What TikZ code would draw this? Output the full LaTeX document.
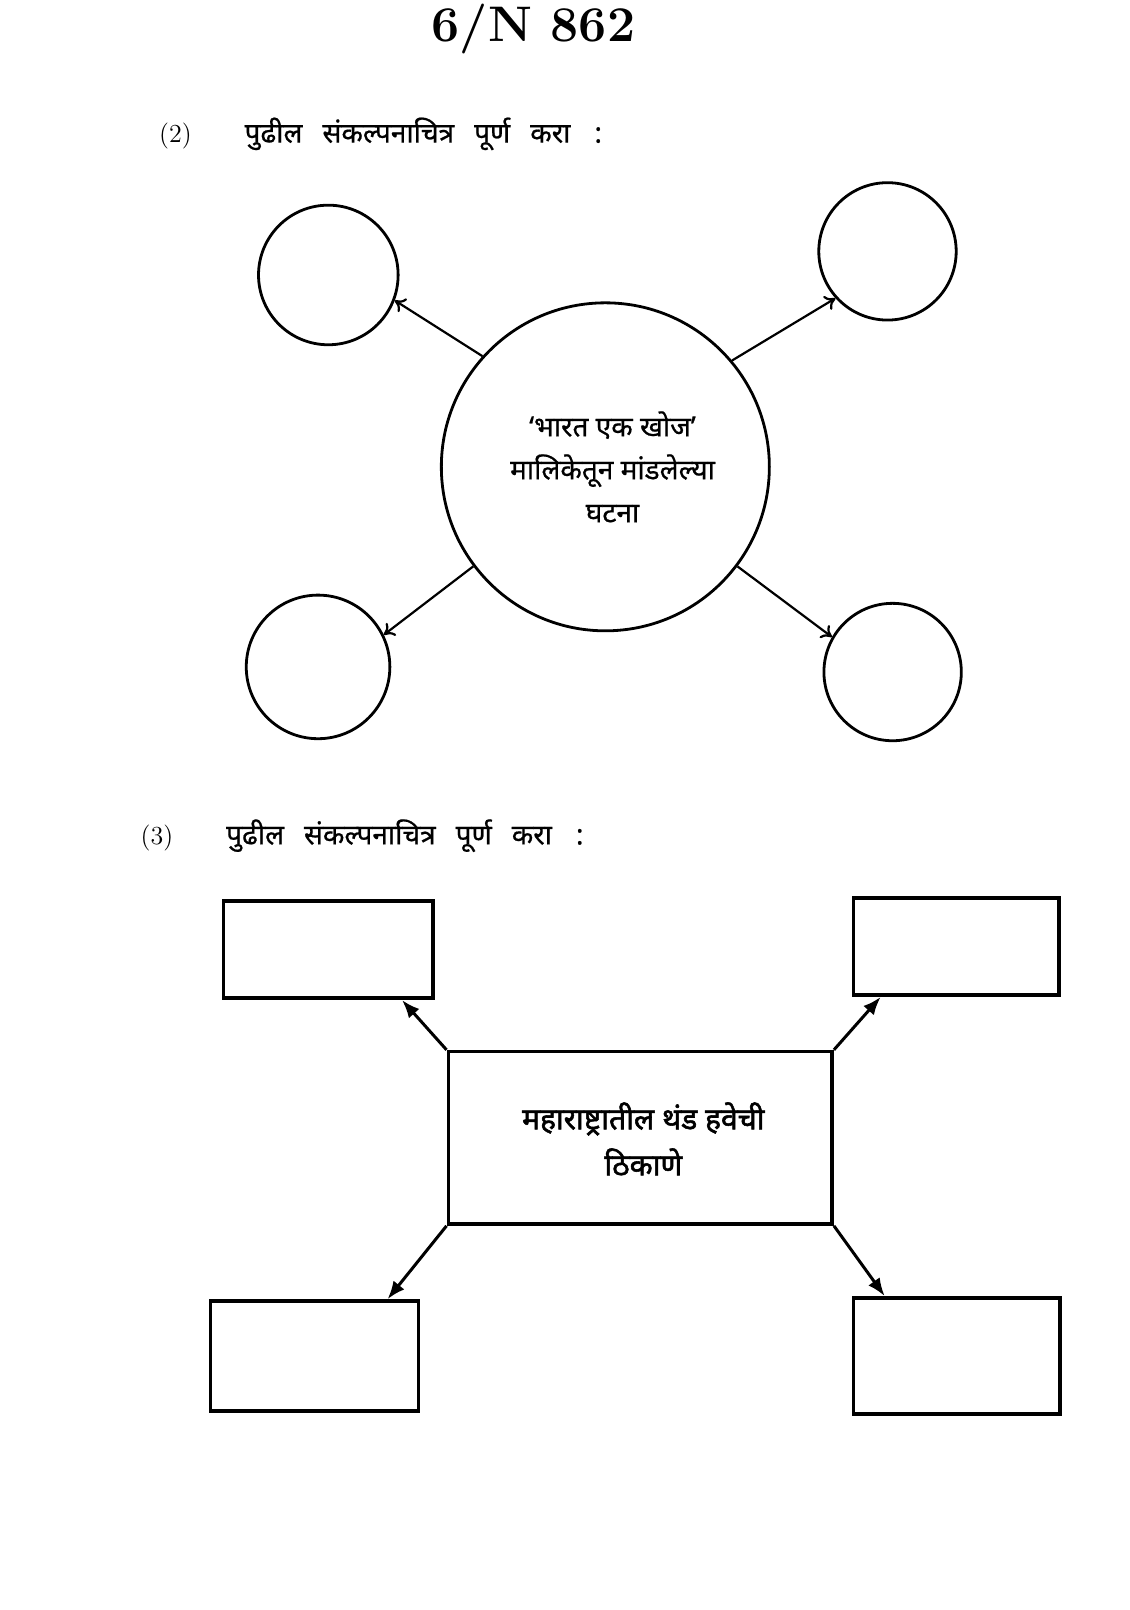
\documentclass[tikz,border=0pt]{standalone}
\usepackage{fontspec}
\usetikzlibrary{positioning}
\usetikzlibrary{arrows.meta}
\newfontfamily\marathi[Script=Devanagari, FakeBold=0.6]{Noto Sans}
\newfontfamily\marathibold[Script=Devanagari, FakeBold=1.8]{Noto Sans}
\newcommand{\wgap}{\hspace{10pt}}

\begin{document}
\begin{tikzpicture}[x=0.513pt, y=-0.513pt,
  blank/.style={draw, circle, line width=1.4pt, inner sep=0pt},
  box/.style={draw, rectangle, line width=1.8pt, inner sep=0pt},
  open arrow/.style={line width=1.1pt, -{To[length=5pt, width=8pt]}},
  solid arrow/.style={line width=1.5pt, -{Latex[length=9pt, width=7pt]}},
  qno/.style={anchor=base, font=\fontsize{13}{15}\selectfont},
  qtext/.style={anchor=base west, inner sep=0pt, font=\marathi\fontsize{14}{16}\selectfont}]

\useasboundingbox (0,0) rectangle (1100.4,1569.2);

\node[anchor=base] (code) at (520,40) {\fontsize{25}{30}\selectfont\bfseries 6/N 862};


% question 2
{
\node[qno] (q2) at (171,139) {(2)};
\node[qtext] (q2text) at (238,139) {पुढील\wgap संकल्पनाचित्र\wgap पूर्ण\wgap करा\wgap\hspace{2pt}:};

\node[blank, minimum size=164pt] (hub) at (590,455) {};
\node[align=center, font=\marathi\fontsize{14}{21.5}\selectfont] (hubtext) at (597,455)
{‘भारत एक खोज’\\ मालिकेतून मांडलेल्या\\ घटना};

\node[blank, minimum size=69.8pt] (c1) at (320,268) {};
\node[blank, minimum size=68.7pt] (c2) at (865,245) {};
\node[blank, minimum size=71.8pt] (c3) at (310,650) {};
\node[blank, minimum size=68.7pt] (c4) at (870,655) {};

\draw[open arrow] (hub.138) -- (c1.339);
\draw[open arrow] (hub.40) -- (c2.222);
\draw[open arrow] (hub.217) -- (c3.26);
\draw[open arrow] (hub.323) -- (c4.150);
}


% question 3
{
\node[qno] (q3) at (153,823) {(3)};
\node[qtext] (q3text) at (220,823) {पुढील\wgap संकल्पनाचित्र\wgap पूर्ण\wgap करा\wgap\hspace{2pt}:};

\node[box, minimum width=191.9pt, minimum height=86.2pt] (place) at (624,1109) {};
\node[align=center, font=\marathibold\fontsize{15}{23}\selectfont] (placetext) at (627,1110)
{महाराष्ट्रातील थंड हवेची\\ ठिकाणे};

\node[box, minimum width=104.7pt, minimum height=48.7pt] (r1) at (320,925.5) {};
\node[box, minimum width=102.6pt, minimum height=48.7pt] (r2) at (932,922.5) {};
\node[box, minimum width=104.1pt, minimum height=54.9pt] (r3) at (306.5,1321.5) {};
\node[box, minimum width=103.1pt, minimum height=58pt] (r4) at (932.5,1321.5) {};

\draw[solid arrow] (place.north west) -- ([xshift=-16.4pt]r1.south east);
\draw[solid arrow] (place.north east) -- ([xshift=14.4pt]r2.south west);
\draw[solid arrow] (place.south west) -- ([xshift=-16.4pt]r3.north east);
\draw[solid arrow] (place.south east) -- ([xshift=16.4pt]r4.north west);
}

\end{tikzpicture}
\end{document}
